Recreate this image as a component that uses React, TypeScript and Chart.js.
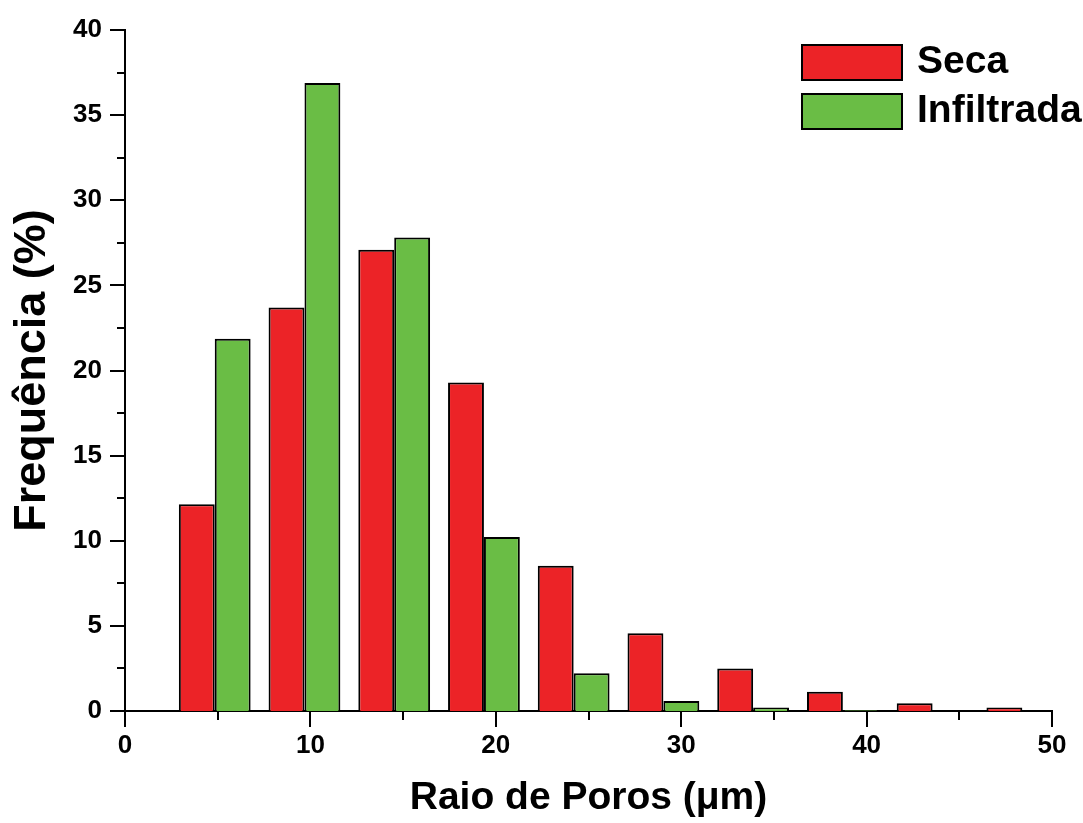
import React, { useEffect, useRef } from "react";
import { Chart, registerables } from "chart.js";

Chart.register(...registerables);

// Bin centres of pore radius (µm)
const binCenters = [4.84, 9.68, 14.52, 19.36, 24.2, 29.04, 33.88, 38.72, 43.56, 48.4];
// Frequency (%) for dry samples
const secaValues = [12.14, 23.7, 27.09, 19.29, 8.53, 4.56, 2.49, 1.13, 0.45, 0.2];
// Frequency (%) for infiltrated samples
const infiltradaValues: (number | null)[] = [21.87, 36.88, 27.81, 10.22, 2.21, 0.59, 0.2, 0.05, null, null];

const seriesLabels = ["Seca", "Infiltrada"];
const seriesColors = ["#EC2327", "#6ABD45"];

const xTicks = [0, 10, 20, 30, 40, 50];
const yTicks = [0, 5, 10, 15, 20, 25, 30, 35, 40];

const FONT = "'Liberation Sans', Arial, Helvetica, sans-serif";

const minorTicksPlugin = {
  id: "minorTicks",
  afterDraw(chart: any) {
    const { ctx, chartArea, scales } = chart;
    const xs = scales.x;
    const ys = scales.y;
    ctx.save();
    ctx.strokeStyle = "#000";
    ctx.lineWidth = 2;
    ctx.beginPath();
    for (let v = xs.min; v <= xs.max + 1e-9; v += 5) {
      const px = Math.round(xs.getPixelForValue(v));
      const len = Math.abs(v % 10) < 1e-9 ? 16 : 9;
      ctx.moveTo(px, chartArea.bottom);
      ctx.lineTo(px, chartArea.bottom + len);
    }
    for (let v = ys.min; v <= ys.max + 1e-9; v += 2.5) {
      const py = Math.round(ys.getPixelForValue(v));
      const len = Math.abs(v % 5) < 1e-9 ? 15 : 8;
      ctx.moveTo(chartArea.left, py);
      ctx.lineTo(chartArea.left - len, py);
    }
    ctx.stroke();
    ctx.restore();
  },
};

const legendPlugin = {
  id: "customLegend",
  afterDraw(chart: any) {
    const { ctx } = chart;
    const x0 = 802;
    const y0 = 45;
    const bw = 100;
    const bh = 35;
    const gap = 49;
    ctx.save();
    chart.data.datasets.forEach((ds: any, i: number) => {
      const y = y0 + i * gap;
      ctx.fillStyle = ds.backgroundColor;
      ctx.fillRect(x0, y, bw, bh);
      ctx.strokeStyle = "#000";
      ctx.lineWidth = 2;
      ctx.strokeRect(x0, y, bw, bh);
      ctx.fillStyle = "#000";
      ctx.font = `bold 39px ${FONT}`;
      ctx.textBaseline = "middle";
      ctx.textAlign = "left";
      ctx.fillText(ds.label, x0 + bw + 15, y + bh / 2);
    });
    ctx.restore();
  },
};

export default function App() {
  const canvasRef = useRef<HTMLCanvasElement | null>(null);

  useEffect(() => {
    const canvas = canvasRef.current;
    if (!canvas) return;
    const chart = new Chart(canvas, {
      type: "bar",
      data: {
        datasets: [
          {
            label: seriesLabels[0],
            data: binCenters.map((x, i) => ({ x, y: secaValues[i] })),
            backgroundColor: seriesColors[0],
            borderColor: "#000",
            borderWidth: 2,
          },
          {
            label: seriesLabels[1],
            data: binCenters.map((x, i) => ({ x, y: infiltradaValues[i] as any })),
            backgroundColor: seriesColors[1],
            borderColor: "#000",
            borderWidth: 2,
          },
        ] as any,
      },
      options: {
        animation: false,
        responsive: false,
        maintainAspectRatio: false,
        layout: { padding: { left: 0, right: 31, top: 30, bottom: 0 } },
        datasets: {
          bar: { categoryPercentage: 0.8, barPercentage: 1.0 },
        },
        plugins: {
          legend: { display: false },
          tooltip: { enabled: false },
          title: { display: false },
        },
        scales: {
          x: {
            type: "linear",
            min: 0,
            max: 50,
            offset: false,
            z: 1,
            afterFit: (scale: any) => {
              scale.height = 112;
              scale.paddingLeft = 0;
              scale.paddingRight = 0;
            },
            afterBuildTicks: (scale: any) => {
              scale.ticks = xTicks.map((v) => ({ value: v }));
            },
            grid: { display: false, drawTicks: false },
            border: { display: true, color: "#000", width: 2 },
            ticks: {
              padding: 19,
              color: "#000",
              font: { family: FONT, size: 26, weight: "bold" },
            },
            title: {
              display: true,
              text: "Raio de Poros (μm)",
              color: "#000",
              font: { family: FONT, size: 39, weight: "bold" },
              padding: { top: 0, bottom: 1 },
            },
          },
          y: {
            type: "linear",
            min: 0,
            max: 40,
            z: 1,
            afterFit: (scale: any) => {
              scale.width = 125;
              scale.paddingTop = 0;
              scale.paddingBottom = 0;
            },
            afterBuildTicks: (scale: any) => {
              scale.ticks = yTicks.map((v) => ({ value: v }));
            },
            grid: { display: false, drawTicks: false },
            border: { display: true, color: "#000", width: 2 },
            ticks: {
              padding: 23,
              color: "#000",
              font: { family: FONT, size: 26, weight: "bold" },
            },
            title: {
              display: true,
              text: "Frequência (%)",
              color: "#000",
              font: { family: FONT, size: 45, weight: "bold" },
              padding: { top: 6, bottom: 0 },
            },
          },
        },
      } as any,
      plugins: [minorTicksPlugin, legendPlugin],
    });
    return () => chart.destroy();
  }, []);

  return (
    <div style={{ position: "absolute", left: 0, top: 0, width: 1083, height: 823 }}>
      <canvas ref={canvasRef} width={1083} height={823} />
    </div>
  );
}
